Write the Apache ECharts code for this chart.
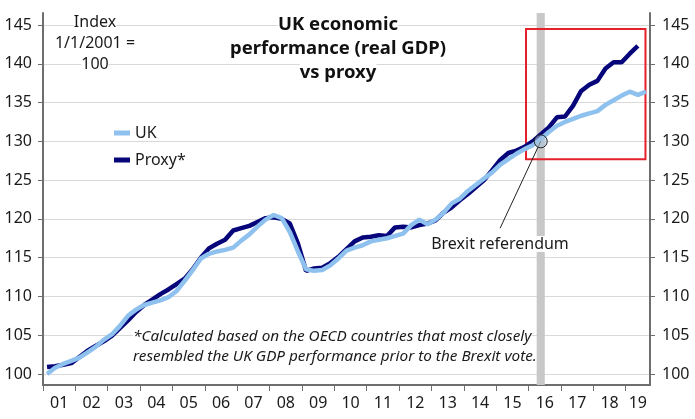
<!DOCTYPE html>
<html>
<head>
<meta charset="utf-8">
<script src="https://cdn.jsdelivr.net/npm/echarts@6/dist/echarts.min.js"></script>
<style>
  html, body { margin: 0; padding: 0; background: #fff; }
  #chart { width: 695px; height: 419px; }
</style>
</head>
<body>
<div id="chart"></div>
<script>
// quarterly index, 2001 Q1 = 100
const startYear = 2001;
const yearTicks = [2001, 2002, 2003, 2004, 2005, 2006, 2007, 2008, 2009, 2010,
  2011, 2012, 2013, 2014, 2015, 2016, 2017, 2018, 2019];
const yearLabels = [2001.5, 2002.5, 2003.5, 2004.5, 2005.5, 2006.5, 2007.5, 2008.5, 2009.5, 2010.5,
  2011.5, 2012.5, 2013.5, 2014.5, 2015.5, 2016.5, 2017.5, 2018.5, 2019.375];
const indexTicks = [100, 105, 110, 115, 120, 125, 130, 135, 140, 145];

const ukGdp = [
  100.0, 100.8, 101.3, 101.7, 102.1, 102.8, 103.5, 104.4, 105.1, 106.2,
  107.5, 108.3, 108.9, 109.2, 109.5, 109.9, 110.7, 112.0, 113.4, 114.9,
  115.5, 115.8, 116.0, 116.3, 117.2, 118.0, 119.0, 119.9, 120.5, 120.1,
  118.3, 115.8, 113.5, 113.3, 113.4, 114.0, 114.9, 115.9, 116.3, 116.6,
  117.1, 117.3, 117.5, 117.8, 118.1, 119.2, 119.9, 119.3, 119.9, 120.8,
  122.0, 122.6, 123.6, 124.4, 125.2, 126.0, 127.0, 127.7, 128.4, 129.0,
  129.5, 130.3, 131.2, 132.0, 132.5, 132.9, 133.3, 133.6, 133.9, 134.7,
  135.3, 135.9, 136.4, 136.0, 136.4
];
const proxyGdp = [
  100.9, 101.0, 101.2, 101.4, 102.2, 103.0, 103.6, 104.2, 104.9, 105.9,
  106.9, 108.0, 108.9, 109.6, 110.3, 110.9, 111.6, 112.3, 113.5, 115.0,
  116.2, 116.8, 117.3, 118.5, 118.8, 119.1, 119.6, 120.1, 120.2, 120.0,
  119.4, 116.8, 113.3, 113.6, 113.7, 114.3, 115.1, 116.1, 117.1, 117.6,
  117.7, 117.9, 117.8, 118.9, 119.0, 118.9, 119.2, 119.4, 119.8, 120.8,
  121.5, 122.4, 123.2, 124.1, 125.0, 126.3, 127.6, 128.5, 128.8, 129.3,
  130.0, 130.9, 131.8, 133.1, 133.2, 134.6, 136.5, 137.3, 137.8, 139.4,
  140.2, 140.2, 141.3, 142.3
];

// Brexit referendum: 2016 Q2
const brexitQuarter = [2016.25, 2016.5];
const brexitPoint = [2016.375, 130];
const calloutEnd = [2015.12, 118.8];
const highlightBox = [[2015.92, 144.5], [2019.61, 127.7]];

const font = '"Noto Sans", "Open Sans", sans-serif';
const quarterX = i => startYear + (i + 0.5) / 4;
const toPairs = arr => arr.map((v, i) => [quarterX(i), v]);
// each line of a text block gets its own white box, hiding gridlines behind it
const boxed = lines => lines.map(l => '{b|' + l + '}').join('\n');

var chart = echarts.init(document.getElementById('chart'));

const yAxisBase = {
  type: 'value',
  min: 98.58,
  max: 146.55,
  axisLine: { show: true, lineStyle: { color: '#6e6e6e', width: 2 } },
  axisTick: { show: true, customValues: indexTicks, length: 5, lineStyle: { color: '#6e6e6e', width: 1 } },
  axisLabel: { customValues: indexTicks, fontSize: 16, color: '#1a1a1a', fontFamily: font }
};

var option = {
  animation: false,
  backgroundColor: '#fff',
  grid: { left: 43, right: 45, top: 13, bottom: 34 },
  legend: {
    data: ['UK', 'Proxy*'],
    orient: 'vertical',
    left: 114,
    top: 125,
    padding: 0,
    itemWidth: 16,
    itemHeight: 5,
    itemGap: 11,
    icon: 'rect',
    textStyle: { fontSize: 16, color: '#1a1a1a', fontFamily: font }
  },
  xAxis: {
    type: 'value',
    min: 2001,
    max: 2019.75,
    splitLine: { show: false },
    axisLine: { lineStyle: { color: '#6e6e6e', width: 2 } },
    axisTick: { show: true, customValues: yearTicks, length: 6, lineStyle: { color: '#6e6e6e', width: 1 } },
    axisLabel: {
      customValues: yearLabels,
      margin: 10,
      fontSize: 16,
      color: '#1a1a1a',
      fontFamily: font,
      formatter: v => String(Math.floor(v)).slice(2)
    }
  },
  yAxis: [
    Object.assign({}, yAxisBase, {
      position: 'left',
      splitLine: { show: true, lineStyle: { color: '#d9d9d9', width: 1 } },
      axisLabel: Object.assign({}, yAxisBase.axisLabel, { margin: 11 })
    }),
    Object.assign({}, yAxisBase, {
      position: 'right',
      splitLine: { show: false },
      axisLabel: Object.assign({}, yAxisBase.axisLabel, { margin: 12 })
    })
  ],
  series: [
    {
      // grey bar marking the referendum quarter
      type: 'line',
      data: [],
      z: 1,
      silent: true,
      markArea: {
        silent: true,
        itemStyle: { color: '#c8c8c8' },
        data: [[{ xAxis: brexitQuarter[0] }, { xAxis: brexitQuarter[1] }]]
      }
    },
    {
      name: 'Proxy*',
      type: 'line',
      data: toPairs(proxyGdp),
      showSymbol: false,
      z: 2,
      color: '#06067a',
      lineStyle: { width: 4.5, color: '#06067a' }
    },
    {
      name: 'UK',
      type: 'line',
      data: toPairs(ukGdp),
      showSymbol: false,
      z: 3,
      color: '#8ec1ee',
      lineStyle: { width: 4.5, color: '#8ec1ee' }
    },
    {
      // annotations: highlight box, circle and callout line
      type: 'line',
      data: [],
      z: 5,
      silent: true,
      markArea: {
        silent: true,
        itemStyle: { color: 'rgba(0,0,0,0)', borderColor: '#e3202c', borderWidth: 2 },
        data: [[{ coord: highlightBox[0] }, { coord: highlightBox[1] }]]
      },
      markPoint: {
        silent: true,
        symbol: 'circle',
        symbolSize: 13,
        label: { show: false },
        itemStyle: { color: 'rgba(170,195,220,0.55)', borderColor: '#222', borderWidth: 1 },
        data: [{ coord: brexitPoint }]
      },
      markLine: {
        silent: true,
        symbol: ['none', 'none'],
        label: { show: false },
        lineStyle: { color: '#222', width: 1, type: 'solid' },
        data: [[{ coord: brexitPoint }, { coord: calloutEnd }]]
      }
    }
  ],
  graphic: [
    {
      type: 'text',
      z: 0.5,
      style: {
        text: boxed(['UK economic', 'performance (real GDP)', 'vs proxy']),
        x: 338, y: 13,
        textAlign: 'center',
        fill: '#111',
        font: 'bold 18.5px ' + font,
        rich: { b: { backgroundColor: '#fff', lineHeight: 24, fontSize: 18.5, fontWeight: 'bold', fontFamily: font } }
      }
    },
    {
      type: 'text',
      z: 0.5,
      style: {
        text: boxed(['Index', '1/1/2001 =', '100']),
        x: 95, y: 12,
        textAlign: 'center',
        fill: '#1a1a1a',
        font: '16px ' + font,
        rich: { b: { backgroundColor: '#fff', lineHeight: 21, fontSize: 16, fontFamily: font } }
      }
    },
    {
      type: 'text',
      z: 1.5,
      style: {
        text: boxed(['Brexit referendum']),
        x: 500, y: 234,
        textAlign: 'center',
        fill: '#1a1a1a',
        font: '16px ' + font,
        rich: { b: { backgroundColor: '#fff', lineHeight: 20, fontSize: 16, fontFamily: font } }
      }
    },
    {
      type: 'text',
      z: 0.5,
      style: {
        text: boxed(['*Calculated based on the OECD countries that most closely',
          'resembled the UK GDP performance prior to the Brexit vote.']),
        x: 133, y: 327,
        textAlign: 'left',
        fill: '#1a1a1a',
        font: 'italic 15.3px ' + font,
        rich: { b: { backgroundColor: '#fff', lineHeight: 19.5, fontSize: 15.3, fontStyle: 'italic', fontFamily: font } }
      }
    }
  ]
};

chart.setOption(option);
window.addEventListener('resize', chart.resize);
</script>
</body>
</html>
